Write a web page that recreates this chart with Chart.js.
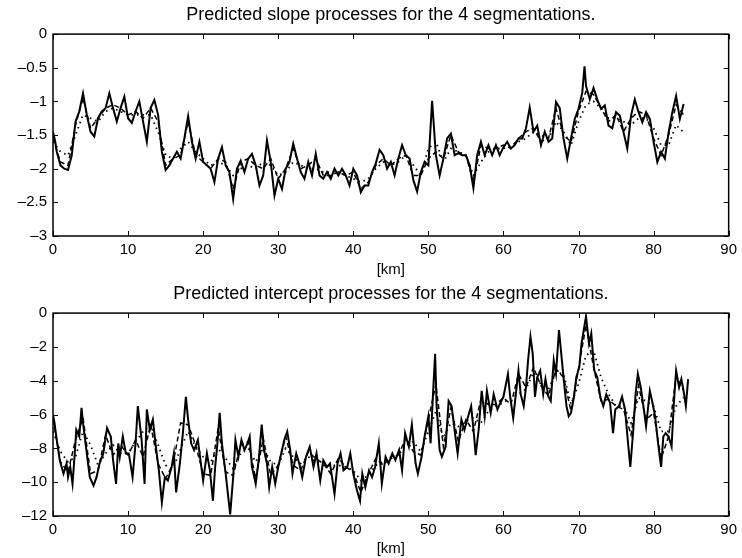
<!DOCTYPE html>
<html>
<head>
<meta charset="utf-8">
<script src="https://cdn.jsdelivr.net/npm/chart.js@4"></script>
<style>
  body { margin: 0; background: #fff; }
  .panel { position: absolute; left: 0; width: 742px; height: 279px; }
</style>
</head>
<body>
<div class="panel" style="top:0"><canvas id="slope" width="742" height="279"></canvas></div>
<div class="panel" style="top:279px"><canvas id="intercept" width="742" height="279"></canvas></div>
<script>
// slope, solid line (km / value)
const slopeKm = [0,0.3,0.5,1,1.5,2,2.5,3,3.5,4,4.5,5,5.5,6,6.5,7,7.5,8,8.5,9,9.5,10,10.5,11,11.5,12,12.5,13,13.5,14,14.5,15,15.5,16,16.5,17,17.5,18,18.5,19,19.5,20,20.5,21,21.5,22,22.5,23,23.5,24,24.5,25,25.5,26,26.5,27,27.5,28,28.5,29,29.5,30,30.5,31,31.5,32,32.5,33,33.5,34,34.5,35,35.5,36,36.5,37,37.5,38,38.5,39,39.5,40,40.5,41,41.5,42,42.5,43,43.5,44,44.5,45,45.5,46,46.5,47,47.5,48,48.5,49,49.5,50,50.5,51,51.5,52,52.5,53,53.5,54,54.5,55,55.5,56,56.5,57,57.5,58,58.5,59,59.5,60,60.5,61,61.5,62,62.5,63,63.5,64,64.5,65,65.5,66,66.5,67,67.5,68,68.5,69,69.5,70,70.5,70.8,71,71.5,72,72.5,73,73.5,74,74.5,75,75.5,76,76.5,77,77.5,78,78.5,79,79.5,80,80.5,81,81.5,82,82.5,83,83.5,84];
const slopeSolid = [-1.45,-1.6,-1.75,-1.95,-2.0,-2.02,-1.8,-1.3,-1.15,-0.88,-1.2,-1.45,-1.52,-1.25,-1.15,-1.1,-0.88,-1.1,-1.3,-1.1,-0.93,-1.25,-1.32,-1.15,-1.0,-1.3,-1.6,-1.1,-0.98,-1.2,-1.75,-2.02,-1.95,-1.85,-1.75,-1.85,-1.55,-1.22,-1.6,-1.85,-1.6,-1.9,-1.95,-2.0,-2.2,-1.85,-1.68,-1.95,-2.05,-2.45,-2.0,-1.88,-2.05,-1.85,-1.78,-1.95,-2.25,-2.1,-1.58,-1.9,-2.4,-2.15,-2.3,-2.0,-1.9,-1.63,-1.85,-2.05,-2.15,-1.9,-2.1,-1.78,-2.1,-2.15,-2.05,-2.15,-2.0,-2.1,-2.0,-2.1,-2.25,-2.0,-2.1,-2.35,-2.25,-2.25,-2.05,-1.92,-1.72,-1.8,-2.0,-1.9,-2.1,-1.85,-1.65,-1.8,-1.85,-2.17,-2.34,-2.05,-1.9,-1.95,-0.99,-1.8,-2.1,-1.85,-1.55,-1.48,-1.8,-1.77,-1.8,-1.8,-1.95,-2.29,-1.8,-1.6,-1.8,-1.65,-1.8,-1.65,-1.8,-1.68,-1.6,-1.7,-1.65,-1.55,-1.55,-1.4,-1.09,-1.45,-1.36,-1.65,-1.45,-1.6,-1.55,-1.01,-1.1,-1.55,-1.85,-1.55,-1.26,-1.11,-0.87,-0.48,-0.77,-0.97,-0.8,-0.97,-1.11,-1.06,-1.36,-1.4,-1.16,-1.21,-1.46,-1.7,-1.21,-0.97,-1.16,-1.31,-1.16,-1.26,-1.6,-1.9,-1.75,-1.85,-1.46,-1.16,-0.92,-1.26,-1.04];

// slope, other segmentations, one value per km
const slopeKm2 = [0,1,2,3,4,5,6,7,8,9,10,11,12,13,14,15,16,17,18,19,20,21,22,23,24,25,26,27,28,29,30,31,32,33,34,35,36,37,38,39,40,41,42,43,44,45,46,47,48,49,50,51,52,53,54,55,56,57,58,59,60,61,62,63,64,65,66,67,68,69,70,71,72,73,74,75,76,77,78,79,80,81,82,83,84];
const slopeDashed = [-1.55,-1.9,-1.95,-1.35,-0.95,-1.4,-1.25,-1.1,-1.05,-1.1,-1.2,-1.15,-1.25,-1.1,-1.3,-1.95,-1.85,-1.8,-1.3,-1.8,-1.9,-2.0,-1.85,-1.9,-2.3,-1.9,-1.85,-1.95,-2.0,-1.85,-2.15,-2.0,-1.7,-2.0,-1.95,-1.85,-2.1,-2.1,-2.05,-2.1,-2.05,-2.3,-2.2,-1.95,-1.85,-1.95,-1.85,-1.8,-2.1,-2.1,-1.85,-1.75,-1.85,-1.5,-1.75,-1.8,-2.2,-1.65,-1.7,-1.7,-1.65,-1.7,-1.55,-1.45,-1.4,-1.6,-1.55,-1.1,-1.5,-1.6,-1.15,-0.85,-0.9,-1.1,-1.3,-1.2,-1.45,-1.25,-1.15,-1.2,-1.55,-1.8,-1.5,-1.05,-1.2];
const slopeDotted = [-1.6,-1.75,-1.8,-1.5,-1.2,-1.25,-1.3,-1.15,-1.1,-1.15,-1.2,-1.2,-1.2,-1.2,-1.45,-1.8,-1.85,-1.7,-1.6,-1.75,-1.85,-1.95,-1.9,-1.95,-2.1,-2.0,-1.95,-2.0,-1.9,-1.95,-2.1,-2.05,-1.9,-1.95,-2.0,-2.0,-2.05,-2.05,-2.05,-2.1,-2.15,-2.2,-2.15,-2.0,-1.9,-1.95,-1.9,-1.8,-1.95,-2.1,-1.7,-1.6,-1.9,-1.7,-1.75,-1.8,-2.1,-1.9,-1.75,-1.7,-1.7,-1.65,-1.6,-1.55,-1.45,-1.5,-1.55,-1.3,-1.45,-1.65,-1.3,-1.05,-1.0,-1.1,-1.25,-1.25,-1.3,-1.35,-1.25,-1.25,-1.4,-1.65,-1.65,-1.35,-1.46];

// intercept, solid line (km / value)
const interKm = [0,0.2,0.5,0.9,1.4,1.8,2.0,2.3,2.6,2.9,3.1,3.5,3.8,4.0,4.5,4.9,5.4,5.8,6.2,6.7,7.2,7.7,8.0,8.4,8.7,8.9,9.3,9.7,10.1,10.6,11.0,11.3,11.8,12.2,12.5,12.9,13.3,13.7,14.1,14.5,14.9,15.3,15.8,16.1,16.4,16.9,17.3,17.7,18.0,18.4,18.8,19.3,19.7,20.0,20.5,20.9,21.3,21.6,21.9,22.2,22.5,23.0,23.3,23.6,24.0,24.3,24.7,25.1,25.5,25.9,26.2,26.5,27.0,27.4,27.8,28.1,28.5,28.8,29.2,29.6,30.0,30.4,30.8,31.2,31.6,31.9,32.4,32.8,33.2,33.7,34.2,34.7,35.1,35.6,36.0,36.5,36.9,37.5,37.9,38.3,38.7,39.2,39.6,40.0,40.5,40.9,41.2,41.6,42.1,42.5,42.9,43.4,43.8,44.3,44.7,45.2,45.6,46.1,46.5,46.9,47.4,47.8,48.3,48.6,49.1,49.5,50.0,50.3,50.6,50.9,51.1,51.5,51.8,52.3,52.7,53.1,53.6,53.9,54.4,54.8,55.3,55.7,56.1,56.3,56.7,57.1,57.5,57.8,58.3,58.7,59.2,59.6,60.0,60.6,60.9,61.3,61.7,62.0,62.3,62.7,63.0,63.3,63.6,63.9,64.2,64.5,64.9,65.3,65.6,66.0,66.3,66.7,67.0,67.4,67.7,68.0,68.4,68.7,69.0,69.4,69.7,70.1,70.4,70.7,71.0,71.4,71.7,72.1,72.5,72.9,73.3,73.7,74.2,74.6,74.9,75.4,75.8,76.2,76.6,76.9,77.3,77.6,77.9,78.3,78.7,79.0,79.5,79.8,80.2,80.6,81.0,81.3,81.6,82.0,82.4,82.7,83.0,83.4,83.7,84.0,84.3,84.6];
const interSolid = [-6.0,-6.5,-7.5,-8.7,-9.5,-8.9,-9.7,-9.1,-10.1,-8.3,-6.9,-7.3,-5.6,-6.5,-8.3,-9.7,-10.2,-9.7,-8.9,-8.3,-6.8,-7.3,-8.7,-10.1,-7.7,-8.5,-7.3,-8.3,-8.3,-9.7,-7.7,-5.5,-7.5,-10.1,-5.7,-6.9,-6.3,-7.9,-9.3,-11.2,-9.7,-9.9,-9.1,-8.3,-10.6,-8.9,-7.1,-4.95,-6.3,-7.7,-8.1,-7.5,-8.9,-9.9,-8.3,-9.3,-11.1,-9.1,-7.7,-5.9,-7.7,-9.5,-10.7,-11.9,-9.7,-7.5,-8.5,-7.5,-8.1,-7.7,-7.3,-9.1,-10.1,-8.7,-6.6,-8.1,-8.9,-10.3,-9.1,-10.1,-9.1,-8.3,-7.5,-7.0,-8.1,-9.5,-8.3,-8.9,-9.7,-8.5,-7.9,-9.1,-8.3,-9.9,-8.7,-9.1,-8.9,-10.7,-8.9,-8.3,-9.3,-9.1,-8.3,-9.5,-10.5,-11.1,-9.5,-10.3,-9.3,-9.7,-9.1,-7.7,-10.1,-8.5,-8.9,-8.3,-8.7,-8.1,-9.3,-7.1,-7.9,-6.6,-8.9,-9.5,-8.5,-7.3,-6.1,-7.7,-4.95,-2.4,-5.5,-8.1,-8.5,-7.9,-5.2,-5.5,-7.3,-8.3,-6.3,-6.9,-6.1,-5.5,-7.3,-8.4,-6.9,-4.6,-6.1,-4.6,-5.9,-4.8,-5.7,-5.3,-4.95,-3.6,-4.95,-6.2,-4.6,-3.4,-4.8,-5.5,-4.4,-2.7,-1.4,-2.4,-4.95,-3.8,-3.4,-4.8,-3.9,-4.95,-5.2,-2.8,-3.6,-1.0,-2.4,-3.8,-5.5,-6.1,-5.9,-4.95,-3.8,-3.2,-1.8,-1.0,-0.2,-1.8,-1.2,-3.4,-3.8,-4.95,-5.5,-4.8,-5.3,-7.1,-5.7,-5.5,-4.95,-5.7,-7.7,-9.1,-6.9,-4.8,-3.6,-4.4,-5.7,-6.7,-4.6,-5.2,-6.1,-7.7,-9.1,-7.3,-7.1,-7.3,-7.9,-5.3,-3.4,-4.4,-3.9,-4.6,-5.5,-3.9];

// intercept, other segmentations, one value per km
const interKm2 = slopeKm2;
const interDashed = [-6.3,-8.8,-9.4,-7.5,-6.2,-9.5,-9.3,-7.2,-8.4,-7.8,-8.4,-7.5,-8.5,-6.6,-8.9,-9.8,-8.9,-6.5,-6.6,-7.8,-9.5,-9.6,-6.8,-9.4,-9.6,-7.8,-7.6,-9.8,-7.4,-9.6,-9.0,-7.3,-9.0,-9.3,-8.2,-8.6,-8.9,-9.5,-8.6,-9.1,-9.4,-10.6,-9.5,-8.6,-9.0,-8.5,-8.4,-7.4,-8.2,-8.4,-6.3,-4.2,-7.9,-5.6,-7.6,-6.3,-7.0,-5.1,-5.4,-5.4,-5.0,-5.4,-3.6,-4.4,-3.2,-4.3,-4.9,-3.3,-3.8,-5.8,-3.3,-0.7,-3.2,-5.2,-5.1,-5.5,-5.7,-7.2,-4.3,-6.3,-5.9,-8.6,-7.3,-3.7,-4.6];
const interDotted = [-7.0,-8.2,-8.8,-8.5,-7.0,-7.8,-9.0,-8.3,-7.8,-8.3,-8.3,-7.6,-7.0,-6.6,-7.8,-9.0,-9.2,-8.0,-7.0,-7.9,-8.5,-8.8,-8.0,-8.6,-9.2,-8.3,-8.0,-8.8,-8.0,-8.8,-9.0,-8.0,-8.5,-8.9,-8.5,-8.8,-9.0,-9.0,-9.0,-9.1,-9.3,-9.9,-9.6,-9.0,-8.8,-8.6,-8.4,-7.8,-7.6,-8.2,-7.0,-5.8,-7.4,-6.5,-6.7,-6.4,-6.2,-6.5,-5.8,-5.5,-5.3,-5.0,-4.8,-4.5,-3.5,-4.2,-4.5,-3.5,-3.6,-5.4,-4.2,-2.5,-2.2,-3.8,-4.8,-5.5,-5.5,-6.5,-5.0,-5.2,-5.5,-7.0,-7.0,-5.5,-5.0];

const FONT = "'Liberation Sans', Arial, Helvetica, sans-serif";

function pts(xs, ys) {
    return xs.map(function(x, i) { return { x: x, y: ys[i] }; });
}

function minusFmt(v) {
    return v === 0 ? '0' : (v < 0 ? '\u2013' + Math.abs(v) : String(v));
}

// MATLAB-like box with inward ticks on all four sides
const boxPlugin = {
    id: 'box',
    afterDatasetsDraw: function(chart) {
        const ctx = chart.ctx, a = chart.chartArea;
        const xs = chart.scales.x, ys = chart.scales.y;
        ctx.save();
        ctx.strokeStyle = '#000';
        ctx.lineWidth = 1;
        ctx.beginPath();
        xs.ticks.forEach(function(t) {
            const px = Math.round(xs.getPixelForValue(t.value)) + 0.5;
            ctx.moveTo(px, a.bottom); ctx.lineTo(px, a.bottom - 5);
            ctx.moveTo(px, a.top); ctx.lineTo(px, a.top + 5);
        });
        ys.ticks.forEach(function(t) {
            const py = Math.round(ys.getPixelForValue(t.value)) + 0.5;
            ctx.moveTo(a.left, py); ctx.lineTo(a.left + 5, py);
            ctx.moveTo(a.right, py); ctx.lineTo(a.right - 5, py);
        });
        ctx.stroke();
        ctx.lineWidth = 1.5;
        ctx.strokeRect(a.left, a.top, a.right - a.left, a.bottom - a.top);
        ctx.restore();
    }
};

function makePanel(id, title, yMin, yStep, solid, dashed, dotted, bottomH) {
    new Chart(document.getElementById(id), {
        type: 'line',
        data: {
            datasets: [
                { data: solid, borderColor: '#000', borderWidth: 2, pointRadius: 0, tension: 0 },
                { data: dashed, borderColor: '#000', borderWidth: 1.5, borderDash: [5, 3], pointRadius: 0, tension: 0 },
                { data: dotted, borderColor: '#000', borderWidth: 1.8, borderDash: [1.5, 4], pointRadius: 0, tension: 0 }
            ]
        },
        options: {
            responsive: false,
            animation: false,
            devicePixelRatio: 1,
            layout: { padding: { left: 0, right: 12, top: 0, bottom: 0 } },
            plugins: {
                legend: { display: false },
                tooltip: { enabled: false },
                title: {
                    display: true,
                    fullSize: false,
                    text: title,
                    color: '#000',
                    font: { family: FONT, size: 18, weight: 'normal' },
                    padding: { top: 4, bottom: 8.5 }
                }
            },
            scales: {
                x: {
                    type: 'linear',
                    min: 0, max: 90,
                    grid: { display: false, drawTicks: false },
                    border: { display: false },
                    ticks: { stepSize: 10, color: '#000', padding: 5, maxRotation: 0,
                             font: { family: FONT, size: 15 } },
                    title: { display: true, text: '[km]', color: '#000', padding: 0,
                             font: { family: FONT, size: 15 } },
                    afterFit: function(s) { s.height = bottomH; }
                },
                y: {
                    min: yMin, max: 0,
                    grid: { display: false, drawTicks: false },
                    border: { display: false },
                    ticks: { stepSize: yStep, color: '#000', padding: 6,
                             font: { family: FONT, size: 15 }, callback: minusFmt },
                    afterFit: function(s) { s.width = 53; }
                }
            }
        },
        plugins: [boxPlugin]
    });
}

makePanel('slope', 'Predicted slope processes for the 4 segmentations.', -3, 0.5,
    pts(slopeKm, slopeSolid), pts(slopeKm2, slopeDashed), pts(slopeKm2, slopeDotted), 43);
makePanel('intercept', 'Predicted intercept processes for the 4 segmentations.', -12, 2,
    pts(interKm, interSolid), pts(interKm2, interDashed), pts(interKm2, interDotted), 42);
</script>
</body>
</html>
